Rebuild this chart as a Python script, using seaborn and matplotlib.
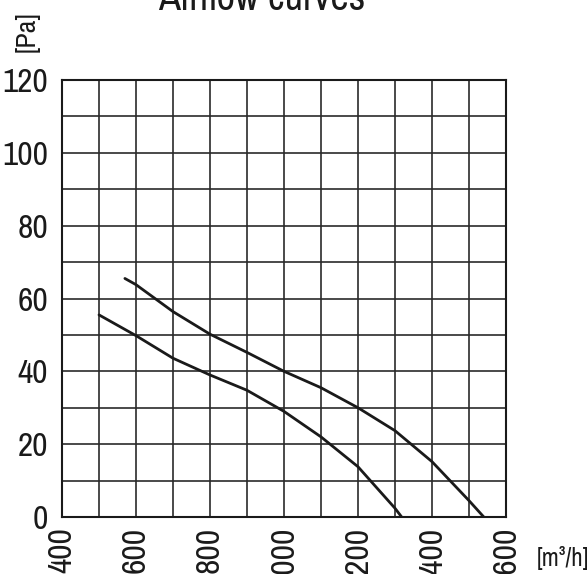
import pandas as pd
import matplotlib
matplotlib.use('Agg')
import matplotlib.pyplot as plt
import seaborn as sns
from matplotlib.ticker import MultipleLocator

# Данные кривых
flow_a = [570, 600, 700, 800, 900, 1000, 1100, 1200, 1300, 1400, 1500, 1540]
pres_a = [65.5, 63.8, 56.4, 50.2, 45.2, 40.0, 35.5, 30.0, 23.7, 15.2, 4.5, 0.0]

flow_b = [500, 600, 700, 800, 900, 1000, 1100, 1200, 1300, 1318]
pres_b = [55.5, 49.8, 43.6, 39.0, 34.8, 29.0, 22.0, 13.8, 2.4, 0.0]

x_ticks = [400, 600, 800, 1000, 1200, 1400, 1600]
y_ticks = [0, 20, 40, 60, 80, 100, 120]

df = pd.concat([
    pd.DataFrame({'flow': flow_a, 'pressure': pres_a, 'curve': 'A'}),
    pd.DataFrame({'flow': flow_b, 'pressure': pres_b, 'curve': 'B'}),
])

sns.set_style('white')
plt.rcParams['font.family'] = ['Archivo Narrow', 'DejaVu Sans']

fig = plt.figure(figsize=(5.88, 5.74), dpi=100)
ax = fig.add_axes([62 / 588, 1 - 517 / 574, 444 / 588, 437 / 574])

sns.lineplot(data=df, x='flow', y='pressure', hue='curve', units='curve',
             estimator=None, sort=False, palette=['#1a1a1a', '#1a1a1a'],
             linewidth=2.0, legend=False, ax=ax)

ax.set_xlim(400, 1600)
ax.set_ylim(0, 120)
ax.set_xticks(x_ticks)
ax.set_yticks(y_ticks)
ax.xaxis.set_minor_locator(MultipleLocator(100))
ax.yaxis.set_minor_locator(MultipleLocator(10))
ax.grid(which='both', color='#2a2a2a', linewidth=1.2)
ax.set_axisbelow(True)
for s in ax.spines.values():
    s.set_color('#1a1a1a')
    s.set_linewidth(1.5)

ax.tick_params(axis='both', which='both', length=0, labelsize=24, colors='#1a1a1a')
ax.tick_params(axis='y', pad=10)
ax.tick_params(axis='x', pad=7)
ax.set_xticklabels([str(v) for v in x_ticks], rotation=90, va='top')
ax.set_xlabel('')
ax.set_ylabel('')

fig.text(262 / 588, 1 - 10 / 574, 'Airflow curves', ha='center', va='baseline',
         fontsize=29, color='#1a1a1a')
fig.text(27 / 588, 1 - 32 / 574, '[Pa]', rotation=90, ha='center', va='center',
         fontsize=20, color='#1a1a1a')
fig.text(563 / 588, 1 - 558 / 574, '[m³/h]', ha='center', va='center',
         fontsize=18, color='#1a1a1a')

fig.savefig('out.png', dpi=100)
